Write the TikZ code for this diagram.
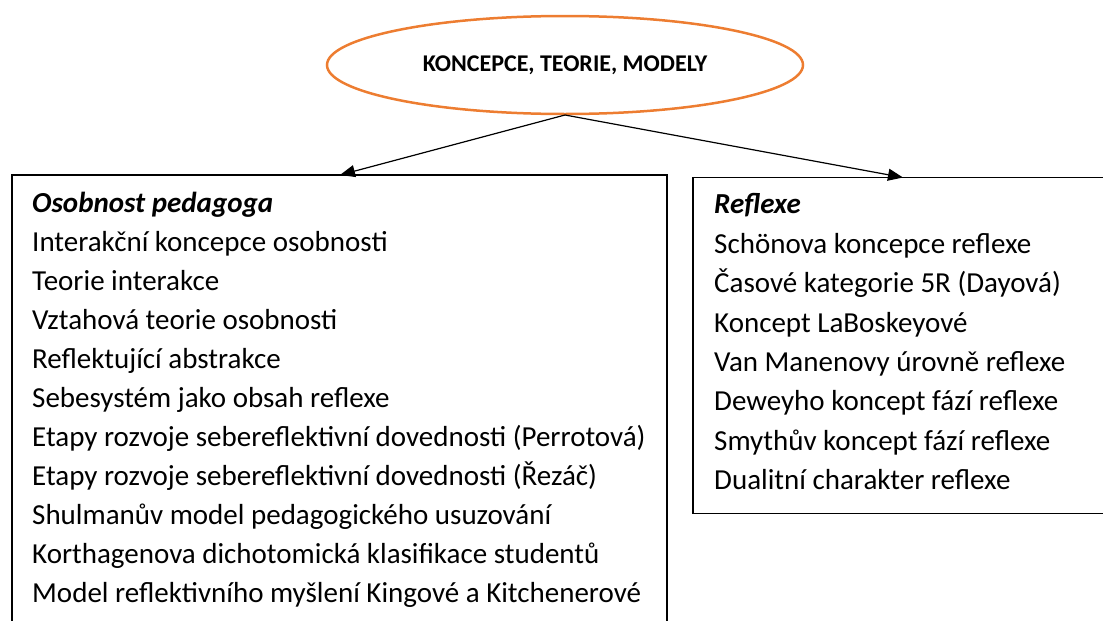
\documentclass[tikz,border=0pt]{standalone}
\usepackage{fontspec}
\setmainfont{Carlito}
\usetikzlibrary{shapes.geometric,arrows.meta}
\definecolor{accent}{HTML}{ED7D31}
\begin{document}
\begin{tikzpicture}[x=1pt,y=-1pt,
  boxframe/.style={draw=black,line width=1.2pt},
  itemtext/.style={anchor=north west,align=left,inner sep=0pt},
  link/.style={line width=1.2pt,-{Triangle[length=15pt,width=12pt]}}]
\useasboundingbox (0,0) rectangle (1103,621);
% top oval
\node[ellipse,draw=accent,line width=2.5pt,minimum width=476pt,minimum height=98pt,
  font=\bfseries\fontsize{24}{28}\selectfont] (top) at (565,65) {KONCEPCE, TEORIE, MODELY};
% frames (they run past the page edges)
\draw[boxframe] (12,175) coordinate (lnw) rectangle (667,660);
\draw[boxframe] (693,177.5) coordinate (rnw) rectangle (1130,513.5);
\coordinate (lin) at (340,175);
\coordinate (rin) at (903,177.5);
\coordinate (src) at (565,115);
\draw[link] (src) -- (lin);
\draw[link] (src) -- (rin);
% texts
\node[itemtext,font=\fontsize{29}{39}\selectfont] (ltext) at (32,191.5) {\textbf{\textit{Osobnost pedagoga}}\\
Interakční koncepce osobnosti\\
Teorie interakce\\
Vztahová teorie osobnosti\\
Reflektující abstrakce\\
Sebesystém jako obsah reflexe\\
Etapy rozvoje sebereflektivní dovednosti (Perrotová)\\
Etapy rozvoje sebereflektivní dovednosti (Řezáč)\\
Shulmanův model pedagogického usuzování\\
Korthagenova dichotomická klasifikace studentů\\
Model reflektivního myšlení Kingové a Kitchenerové};
\node[itemtext,font=\fontsize{29}{39.4}\selectfont] (rtext) at (714,193.5) {\textbf{\textit{Reflexe}}\\
Schönova koncepce reflexe\\
Časové kategorie 5R (Dayová)\\
Koncept LaBoskeyové\\
Van Manenovy úrovně reflexe\\
Deweyho koncept fází reflexe\\
Smythův koncept fází reflexe\\
Dualitní charakter reflexe};
\end{tikzpicture}
\end{document}
